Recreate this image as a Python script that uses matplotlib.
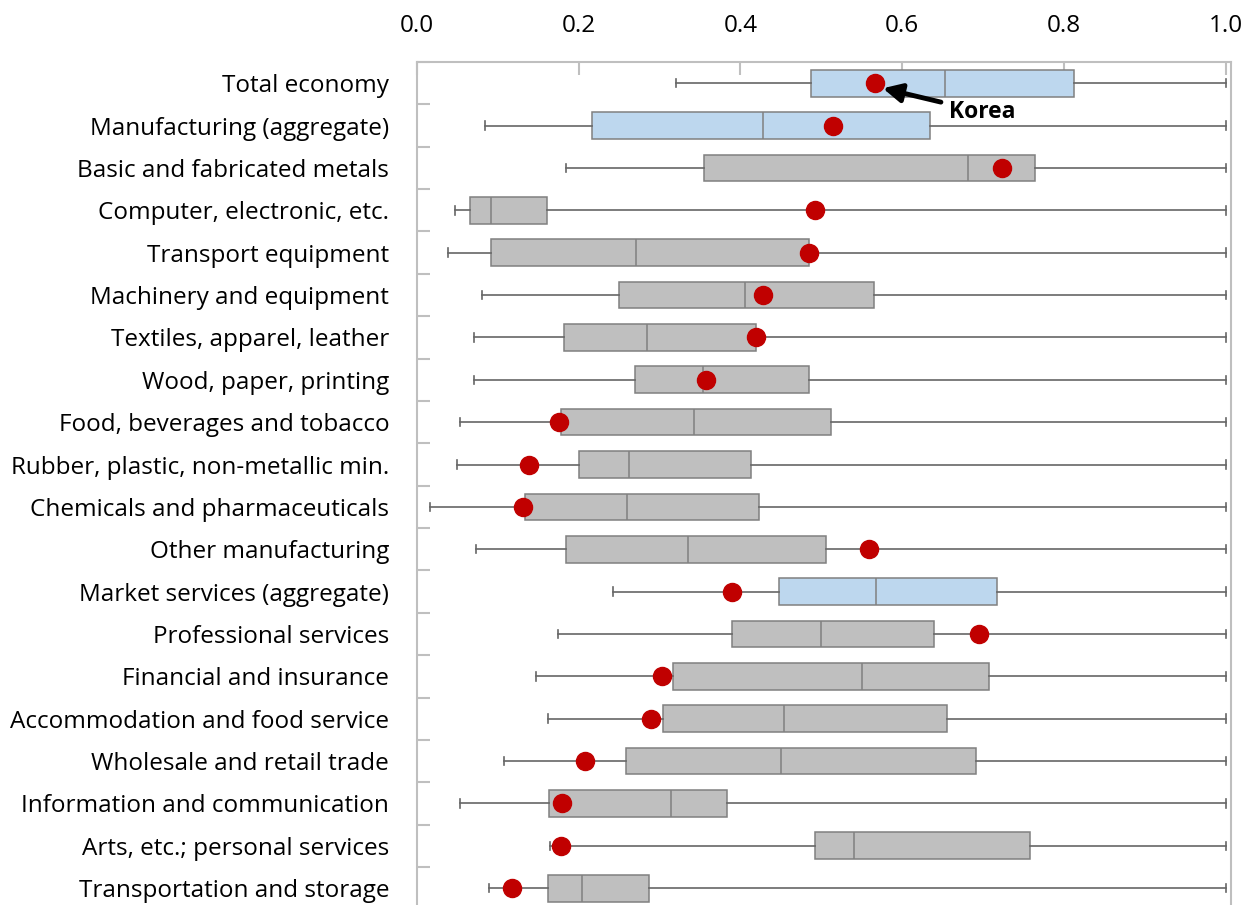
import matplotlib
matplotlib.use("Agg")
import matplotlib.pyplot as plt
import numpy as np

plt.rcParams['font.family'] = ['Open Sans', 'DejaVu Sans']

sectors = ["Total economy", "Manufacturing (aggregate)", "Basic and fabricated metals",
           "Computer, electronic, etc.", "Transport equipment", "Machinery and equipment",
           "Textiles, apparel, leather", "Wood, paper, printing", "Food, beverages and tobacco",
           "Rubber, plastic, non-metallic min.", "Chemicals and pharmaceuticals",
           "Other manufacturing", "Market services (aggregate)", "Professional services",
           "Financial and insurance", "Accommodation and food service",
           "Wholesale and retail trade", "Information and communication",
           "Arts, etc.; personal services", "Transportation and storage"]

whis_lo = [0.320, 0.084, 0.184, 0.047, 0.038, 0.080, 0.070, 0.070, 0.053, 0.049,
           0.016, 0.073, 0.242, 0.174, 0.147, 0.162, 0.108, 0.053, 0.165, 0.089]
q1 = [0.487, 0.217, 0.355, 0.065, 0.092, 0.250, 0.182, 0.269, 0.178, 0.200,
      0.133, 0.184, 0.448, 0.389, 0.317, 0.304, 0.258, 0.163, 0.492, 0.162]
median = [0.653, 0.428, 0.681, 0.092, 0.271, 0.405, 0.284, 0.354, 0.343, 0.262,
          0.260, 0.335, 0.568, 0.499, 0.550, 0.454, 0.450, 0.314, 0.541, 0.204]
q3 = [0.812, 0.635, 0.764, 0.161, 0.485, 0.565, 0.419, 0.485, 0.512, 0.413,
      0.423, 0.506, 0.717, 0.639, 0.707, 0.656, 0.691, 0.383, 0.758, 0.287]
whis_hi = [1.0] * 20
korea = [0.566, 0.515, 0.724, 0.492, 0.485, 0.428, 0.419, 0.357, 0.176, 0.138,
         0.131, 0.559, 0.390, 0.695, 0.303, 0.289, 0.208, 0.179, 0.178, 0.118]
aggregate = [True, True] + [False] * 10 + [True] + [False] * 7

fig = plt.figure(figsize=(12.45, 9.05), dpi=100)
ax = fig.add_axes([417 / 1245, -4.4 / 905, 813.5 / 1245, 847.4 / 905])

pos = np.arange(1, len(sectors) + 1)
stats = []
for i in range(len(sectors)):
    stats.append(dict(whislo=whis_lo[i], q1=q1[i], med=median[i], q3=q3[i], whishi=whis_hi[i]))

edge = '#808080'
bp = ax.bxp(stats, positions=pos, widths=0.63, capwidths=0.2, orientation='horizontal',
            showfliers=False, patch_artist=True,
            boxprops=dict(edgecolor=edge, linewidth=1.1),
            medianprops=dict(color=edge, linewidth=1.1),
            whiskerprops=dict(color='#666666', linewidth=1.2),
            capprops=dict(color='#666666', linewidth=1.2))
for box, agg in zip(bp['boxes'], aggregate):
    box.set_facecolor('#BDD7EE' if agg else '#BFBFBF')

ax.plot(korea, pos, 'o', color='#C00000', markersize=13, zorder=5)

# label pointing at the first Korea dot
ax.annotate('Korea', xy=(korea[0] + 0.01, pos[0] + 0.12), xytext=(0.658, pos[0] + 0.68),
            ha='left', va='center', fontsize=16.5, fontweight='bold',
            arrowprops=dict(arrowstyle='-|>', color='black', lw=3.5, mutation_scale=28,
                            shrinkA=4, shrinkB=0))

ax.set_xlim(0, 1.006)
ax.set_ylim(len(sectors) + 0.5, 0.5)
ax.set_yticks(pos)
ax.set_yticklabels(sectors)
ax.set_yticks(np.arange(0.5, len(sectors) + 1, 1), minor=True)
ax.tick_params(axis='y', which='major', length=0, pad=20, labelsize=17.5)
ax.tick_params(axis='y', which='minor', direction='in', length=9, width=1.5, color='#BFBFBF')

ax.set_xticks(np.arange(0, 1.01, 0.2))
ax.xaxis.set_major_formatter(matplotlib.ticker.FormatStrFormatter('%.1f'))
ax.xaxis.tick_top()
ax.tick_params(axis='x', direction='in', length=9, width=1.5, color='#BFBFBF',
               pad=17, labelsize=17.5)

for side in ['top', 'left', 'right', 'bottom']:
    ax.spines[side].set_color('#BFBFBF')
    ax.spines[side].set_linewidth(1.5)

fig.savefig('out.png', dpi=100)
